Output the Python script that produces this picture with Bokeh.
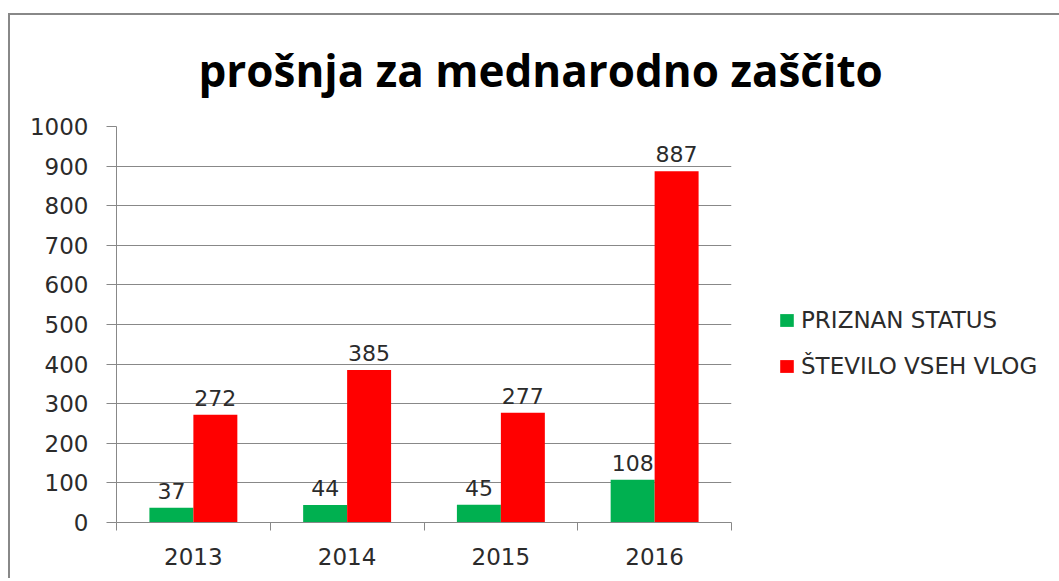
from bokeh.plotting import figure
from bokeh.models import ColumnDataSource, FixedTicker, Range1d, Legend, LegendItem
from bokeh.core.properties import value
from bokeh.embed import file_html
from bokeh.resources import INLINE

years = ["2013", "2014", "2015", "2016"]
priznan = [37, 44, 45, 108]
vse_vloge = [272, 385, 277, 887]
y_ticks = [0, 100, 200, 300, 400, 500, 600, 700, 800, 900, 1000]

GREEN = "#00B050"
RED = "#FF0000"
GRID = "#888888"
TXT = "#2b2b2b"
FONT = "DejaVu Sans"

bw = 0.286
centers = [i + 0.5 for i in range(len(years))]
src_g = ColumnDataSource(dict(x=[c - bw / 2 for c in centers], top=priznan,
                              label=[str(v) for v in priznan]))
src_r = ColumnDataSource(dict(x=[c + bw / 2 for c in centers], top=vse_vloge,
                              label=[str(v) for v in vse_vloge]))

p = figure(frame_width=615, frame_height=396, x_range=Range1d(0, len(years)), y_range=Range1d(0, 1000),
           output_backend="svg", toolbar_location=None,
           min_border_left=106, min_border_right=328, min_border_top=111, min_border_bottom=56)
p.styles = {"border-left": "2px solid #888888", "border-top": "2px solid #888888",
            "margin-top": "13px", "margin-left": "8px"}

p.title.text = "prošnja za mednarodno zaščito"
p.title.text_font = "Open Sans"
p.title.text_font_style = "bold"
p.title.text_font_size = "44px"
p.title.text_line_height = 0.8
p.title.text_color = "#000000"
p.title.align = "left"
p.title.vertical_align = "top"
p.title.offset = 82
p.title.standoff = 49

p.outline_line_color = None
p.background_fill_color = "white"
p.border_fill_color = "white"

g = p.vbar(x="x", top="top", width=bw, source=src_g, fill_color=GREEN, line_color=None)
r = p.vbar(x="x", top="top", width=bw, source=src_r, fill_color=RED, line_color=None)

for src in (src_g, src_r):
    p.text(x="x", y="top", text="label", source=src, text_align="center",
           text_baseline="alphabetic", y_offset=-17, text_font=value(FONT),
           text_font_size="22px", text_color=TXT)

# y axis
p.yaxis.ticker = FixedTicker(ticks=y_ticks)
p.yaxis.axis_line_color = GRID
p.yaxis.major_tick_line_color = GRID
p.yaxis.major_tick_out = 10
p.yaxis.major_tick_in = 0
p.yaxis.minor_tick_line_color = None
p.yaxis.major_label_standoff = 18
p.yaxis.major_label_text_font = FONT
p.yaxis.major_label_text_font_size = "23px"
p.yaxis.major_label_text_color = TXT

# x axis
p.xaxis.ticker = FixedTicker(ticks=centers, minor_ticks=list(range(len(years) + 1)))
p.xaxis.major_label_overrides = {c: y for c, y in zip(centers, years)}
p.xaxis.axis_line_color = GRID
p.xaxis.major_tick_line_color = None
p.xaxis.major_tick_out = 0
p.xaxis.major_tick_in = 0
p.xaxis.minor_tick_line_color = GRID
p.xaxis.minor_tick_out = 8
p.xaxis.minor_tick_in = 0
p.xaxis.major_label_standoff = 17
p.xaxis.major_label_text_font = FONT
p.xaxis.major_label_text_font_size = "23px"
p.xaxis.major_label_text_color = TXT

p.xgrid.grid_line_color = None
p.ygrid.ticker = FixedTicker(ticks=y_ticks)
p.ygrid.grid_line_color = GRID

legend = Legend(items=[LegendItem(label="PRIZNAN STATUS", renderers=[g]),
                       LegendItem(label="ŠTEVILO VSEH VLOG", renderers=[r])],
                location=(47, 141))
legend.glyph_width = 17
legend.glyph_height = 16
legend.label_height = 30
legend.spacing = 16
legend.padding = 0
legend.margin = 0
legend.label_standoff = 6
legend.label_text_font = FONT
legend.label_text_font_size = "23px"
legend.label_text_color = TXT
legend.border_line_color = None
legend.background_fill_alpha = 0
p.add_layout(legend, "right")

open("out.html", "w").write(file_html(p, INLINE))
